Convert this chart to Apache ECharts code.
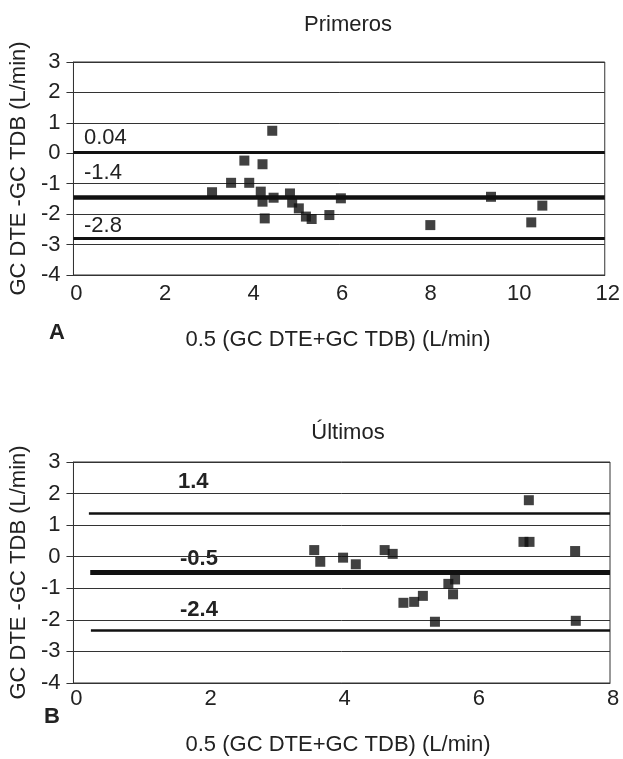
<!DOCTYPE html>
<html>
<head>
<meta charset="utf-8">
<title>Primeros / Últimos</title>
<script src="https://cdn.jsdelivr.net/npm/echarts@6/dist/echarts.min.js"></script>
<style>
html, body { margin: 0; padding: 0; background: #fff; }
#main { width: 623px; height: 759px; }
</style>
</head>
<body>
<div id="main"></div>
<script>
// datos
var primerosX = [3.13, 3.56, 3.86, 3.97, 4.49, 4.27, 4.23, 4.27, 4.32, 4.52, 4.89, 4.94, 5.09, 5.25, 5.38, 5.78, 6.04, 8.06, 9.43, 10.34, 10.59];
var primerosY = [-1.28, -0.97, -0.24, -0.97, 0.74, -0.36, -1.26, -1.59, -2.14, -1.46, -1.32, -1.62, -1.81, -2.08, -2.16, -2.03, -1.48, -2.36, -1.43, -2.27, -1.72];
var ultimosX = [3.59, 3.68, 4.02, 4.21, 4.64, 4.76, 4.92, 5.08, 5.21, 5.39, 5.59, 5.69, 5.66, 6.71, 6.80, 6.79, 7.48, 7.49];
var ultimosY = [0.21, -0.16, -0.03, -0.24, 0.21, 0.09, -1.46, -1.43, -1.24, -2.06, -0.86, -0.72, -1.19, 0.47, 0.47, 1.79, 0.18, -2.03];

var limitsA = [0.04, -1.45, -2.78];
var limitLabelsA = ['0.04', '-1.4', '-2.8'];
var limitsB = [1.39, -0.5, -2.33];
var limitLabelsB = ['1.4', '-0.5', '-2.4'];

var yMin = -4, yMax = 3, yStep = 1;
var xMaxA = 12, xMaxB = 8, xStep = 2;

var font = "'Liberation Sans', Arial, sans-serif";
var fs = 22;
var chart = echarts.init(document.getElementById('main'));

function pares(xs, ys) {
	return xs.map(function (x, i) { return [x, ys[i]]; });
}

function yAxis(idx) {
	return {
		gridIndex: idx, type: 'value', min: yMin, max: yMax, interval: yStep,
		name: 'GC DTE -GC TDB (L/min)', nameLocation: 'middle', nameGap: 37,
		nameTextStyle: { fontFamily: font, fontSize: fs, color: '#222' },
		axisLine: { show: true, lineStyle: { color: '#333', width: 1 } },
		axisTick: { show: true, length: 7, lineStyle: { color: '#333' } },
		axisLabel: { fontFamily: font, fontSize: fs, color: '#222', margin: 13 },
		splitLine: { show: true, lineStyle: { color: '#333', width: 1 } }
	};
}

function xAxis(idx, max, margin) {
	return {
		gridIndex: idx, type: 'value', min: 0, max: max, interval: xStep,
		axisLine: { show: true, onZero: false, lineStyle: { color: '#333', width: 1 } },
		axisTick: { show: false },
		axisLabel: { fontFamily: font, fontSize: fs, color: '#222', margin: margin, padding: [0, 0, 0, 6] },
		splitLine: { show: false }
	};
}

function lineas(limits, x0s, x1, widths) {
	return limits.map(function (v, i) {
		return [
			{ coord: [x0s[i], v], lineStyle: { width: widths[i] } },
			{ coord: [x1, v] }
		];
	});
}

function puntos(idx, xs, ys, limits, x0s, x1, widths) {
	return {
		type: 'scatter', xAxisIndex: idx, yAxisIndex: idx,
		symbol: 'rect', symbolSize: 10,
		itemStyle: { color: '#111' },
		data: pares(xs, ys),
		markLine: {
			silent: true, symbol: 'none', animation: false,
			label: { show: false },
			lineStyle: { color: '#111', type: 'solid' },
			data: lineas(limits, x0s, x1, widths)
		}
	};
}

function texto(x, y, s, bold, align) {
	return {
		type: 'text', x: x, y: y,
		style: { text: s, font: (bold ? 'bold ' : '') + fs + 'px ' + font, fill: '#222', textAlign: align || 'left', textVerticalAlign: 'middle' }
	};
}

var option = {
	animation: false,
	grid: [
		{ left: 71, top: 62, width: 539, height: 213, show: true, borderColor: '#333', borderWidth: 1 },
		{ left: 71, top: 462, width: 539, height: 221, show: true, borderColor: '#333', borderWidth: 1 }
	],
	xAxis: [xAxis(0, xMaxA, 8), xAxis(1, xMaxB, 5)],
	yAxis: [yAxis(0), yAxis(1)],
	series: [
		puntos(0, primerosX, primerosY, limitsA, [0, 0, 0], xMaxA, [3, 4.5, 3]),
		puntos(1, ultimosX, ultimosY, limitsB, [0.23, 0.25, 0.26], xMaxB, [2.5, 5, 2.5])
	],
	graphic: [
		texto(348, 25, 'Primeros', false, 'center'),
		texto(348, 433, 'Últimos', false, 'center'),
		texto(338, 340, '0.5 (GC DTE+GC TDB) (L/min)', false, 'center'),
		texto(338, 745, '0.5 (GC DTE+GC TDB) (L/min)', false, 'center'),
		texto(57, 333, 'A', true, 'center'),
		texto(52, 717, 'B', true, 'center'),
		texto(84, 138, limitLabelsA[0]),
		texto(84, 173, limitLabelsA[1]),
		texto(84, 226, limitLabelsA[2]),
		texto(178, 482, limitLabelsB[0], true),
		texto(180, 559, limitLabelsB[1], true),
		texto(180, 610, limitLabelsB[2], true)
	]
};
chart.setOption(option);
</script>
</body>
</html>
